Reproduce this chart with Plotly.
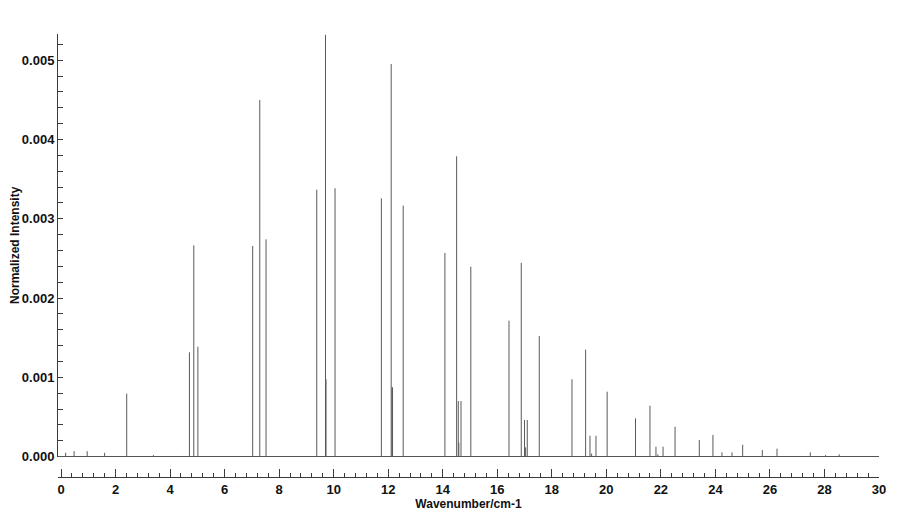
import plotly.graph_objects as go

# stick spectrum: line positions (cm-1) and normalized intensities
wavenumber = [0.17, 0.48, 0.96, 1.60, 2.41, 3.39, 4.46, 4.71, 4.87, 5.02,
              7.03, 7.29, 7.52, 9.38, 9.70, 9.72, 10.05, 11.75, 12.11, 12.14,
              12.16, 12.55, 14.08, 14.51, 14.57, 14.59, 14.67, 15.03, 16.43, 16.88,
              17.00, 17.04, 17.10, 17.54, 18.74, 19.24, 19.40, 19.46, 19.62, 20.03,
              21.07, 21.60, 21.82, 21.89, 22.08, 22.52, 23.41, 23.91, 24.24, 24.61,
              25.00, 25.72, 26.26, 26.61, 27.12, 27.48, 28.04, 28.54, 29.91]
intensity = [0.00005, 0.00007, 0.00007, 0.00005, 0.000795, 0.00002, 0.00001, 0.001316, 0.002665, 0.001387,
             0.002657, 0.004498, 0.002741, 0.003367, 0.00532, 0.000976, 0.003385, 0.003258, 0.004952, 0.000875,
             0.000875, 0.003166, 0.002569, 0.003788, 0.000702, 0.000177, 0.000702, 0.002396, 0.001715, 0.002446,
             0.000463, 0.000118, 0.000463, 0.001522, 0.000976, 0.00135, 0.000265, 0.00004, 0.000265, 0.00082,
             0.000484, 0.000643, 0.000126, 0.00003, 0.000126, 0.000378, 0.00021, 0.000274, 0.000055, 0.000055,
             0.000151, 0.000084, 0.000101, 0.00001, 0.00001, 0.000055, 0.00002, 0.00003, 0.00001]

y_ticks = [0.000, 0.001, 0.002, 0.003, 0.004, 0.005]
x_ticks = list(range(0, 31, 2))

stick_x, stick_y = [], []
for wn, inten in zip(wavenumber, intensity):
    stick_x.extend([wn, wn, None])
    stick_y.extend([0, inten, None])

fig = go.Figure(go.Scatter(
    x=stick_x,
    y=stick_y,
    mode="lines",
    line=dict(color="#5a5a5a", width=1),
    hoverinfo="skip",
))

axis_color = "#3a3a3a"
label_font = dict(size=13, family="Liberation Sans", color="#111", weight="bold")
title_font = dict(size=12, family="Liberation Sans", color="#111", weight="bold")

# page body keeps its default 8px margin, so the figure is 8px smaller
fig.update_layout(
    width=899,
    height=504,
    showlegend=False,
    plot_bgcolor="white",
    paper_bgcolor="white",
    margin=dict(l=50, r=28, t=26, b=35),
    xaxis=dict(
        range=[-0.11, 30.0],
        anchor="free",
        position=0,
        automargin=False,
        tickvals=x_ticks,
        ticks="inside",
        ticklen=8,
        tickwidth=1,
        tickcolor=axis_color,
        minor=dict(dtick=0.4, tick0=0, ticks="inside", ticklen=4,
                   tickcolor=axis_color, showgrid=False),
        showline=True,
        linecolor=axis_color,
        linewidth=1,
        showgrid=False,
        zeroline=False,
        tickfont=label_font,
        title=dict(text="Wavenumber/cm-1", standoff=2, font=title_font),
    ),
    yaxis=dict(
        range=[0, 0.00533],
        domain=[0.0458, 1],
        automargin=False,
        tickvals=y_ticks,
        tickformat=".3f",
        ticks="inside",
        ticklen=5,
        tickwidth=1,
        tickcolor=axis_color,
        minor=dict(dtick=0.0002, tick0=0, ticks="inside", ticklen=5,
                   tickcolor=axis_color, showgrid=False),
        showline=True,
        linecolor=axis_color,
        linewidth=1,
        showgrid=False,
        zeroline=True,
        zerolinecolor="#555",
        zerolinewidth=1,
        tickfont=label_font,
        title=dict(text="Normalized Intensity", standoff=6, font=title_font),
    ),
)

fig.write_html("out.html")
